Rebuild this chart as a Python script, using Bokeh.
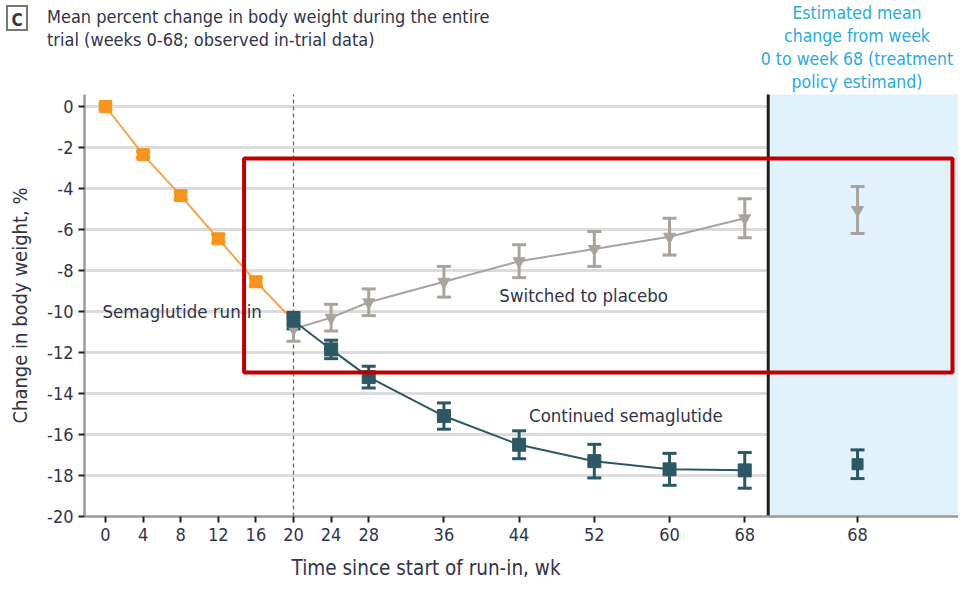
import math
from bokeh.plotting import figure
from bokeh.layouts import column
from bokeh.models import FixedTicker, Label, BoxAnnotation, Range1d, Div
from bokeh.embed import file_html
from bokeh.resources import INLINE

FONT = "'DejaVu Sans Condensed', 'Liberation Sans Narrow', sans-serif"

# ---------------- data ----------------
runin_weeks = [0, 4, 8, 12, 16]
runin_mean = [0.0, -2.35, -4.35, -6.45, -8.55]
runin_err = [0.12, 0.15, 0.2, 0.2, 0.22]

cont_weeks = [20, 24, 28, 36, 44, 52, 60, 68]
cont_mean = [-10.45, -11.85, -13.2, -15.1, -16.5, -17.3, -17.7, -17.75]
cont_err = [0.4, 0.45, 0.53, 0.64, 0.68, 0.82, 0.78, 0.87]

plac_weeks = [20, 24, 28, 36, 44, 52, 60, 68]
plac_mean = [-10.85, -10.3, -9.55, -8.55, -7.55, -6.95, -6.35, -5.45]
plac_err = [0.6, 0.65, 0.65, 0.75, 0.8, 0.85, 0.9, 0.95]

est_pos = 80
est_label = "68"
est_plac_mean = -5.05
est_plac_err = 1.15
est_cont_mean = -17.45
est_cont_err = 0.7

x_ticks = [0, 4, 8, 12, 16, 20, 24, 28, 36, 44, 52, 60, 68]
y_ticks = list(range(-20, 1, 2))

title_lines = ["Mean percent change in body weight during the entire",
               "trial (weeks 0-68; observed in-trial data)"]
header_lines = ["Estimated mean", "change from week", "0 to week 68 (treatment",
                "policy estimand)"]

switch_week = 20
panel_left = 70.5
highlight = dict(left=14.74, right=90.1, top=-2.54, bottom=-12.97)

ORANGE = "#F7941D"
ORANGE_LINE = "#F6A54C"
TEAL = "#2E5764"
GRAY = "#A8A39D"
TXT = "#33334A"
CYAN = "#29AAE1"

W = 958
TOP_H, MAIN_H, BOT_H = 94, 454, 36
X0, X1 = -2.234, 90.74
Y0, Y1 = -20, 0.585


def px(x):  # reference pixel -> week units
    return (x - 113) / 9.5


def py(y):  # reference pixel -> percent units
    return -(y - 113) / 20.9


def lab(fig, x, y, text, size="18.5px", color=TXT, align="left", **kw):
    fig.add_layout(Label(x=x, y=y, text=text, text_font=FONT, text_font_size=size,
                         text_color=color, text_align=align, text_baseline="middle",
                         **kw))


# ---------------- title area (HTML text) ----------------
hx = 84 + (est_pos - X0) * (W - 84) / (X1 - X0)
parts = [
    f'<div style="position:relative;width:{W}px;height:{TOP_H}px;'
    f'font-family:{FONT};color:{TXT};">',
    '<div style="position:absolute;left:6px;top:5px;width:22px;height:26px;'
    'border:2px solid #777;font-weight:bold;font-size:17px;line-height:26px;'
    'text-align:center;background:white;">C</div>',
]
for i, t in enumerate(title_lines):
    parts.append(f'<div style="position:absolute;left:47px;top:{6 + 23 * i}px;'
                 f'font-size:18px;line-height:22px;white-space:nowrap;">{t}</div>')
for i, t in enumerate(header_lines):
    parts.append(f'<div style="position:absolute;left:{hx - 100:.0f}px;top:{2 + 23 * i}px;'
                 f'width:200px;text-align:center;font-size:17.5px;line-height:22px;'
                 f'white-space:nowrap;color:{CYAN};">{t}</div>')
parts.append('</div>')
top = Div(text="".join(parts), width=W, height=TOP_H, margin=(0, 0, 0, 0))

# ---------------- main plot ----------------
p = figure(width=W, height=MAIN_H, output_backend="svg", toolbar_location=None,
           x_range=Range1d(X0, X1), y_range=Range1d(Y0, Y1),
           min_border_left=84, min_border_right=0, min_border_top=0,
           min_border_bottom=32)
p.outline_line_color = None

p.xgrid.visible = False
p.ygrid.ticker = FixedTicker(ticks=y_ticks)
p.ygrid.grid_line_color = "#DCDCDC"
p.ygrid.grid_line_width = 3

p.xaxis.ticker = FixedTicker(ticks=x_ticks + [est_pos])
p.xaxis.major_label_overrides = {est_pos: est_label}
p.yaxis.ticker = FixedTicker(ticks=y_ticks)
p.yaxis.major_label_overrides = {t: str(t) for t in y_ticks}
for ax in (p.xaxis[0], p.yaxis[0]):
    ax.axis_line_color = "#9A9A9A"
    ax.axis_line_width = 2.5
    ax.major_tick_line_color = "#222222"
    ax.major_tick_line_width = 2
    ax.major_tick_out = 6
    ax.major_tick_in = 0
    ax.minor_tick_line_color = None
    ax.major_label_text_font = FONT
    ax.major_label_text_font_size = "18px"
    ax.major_label_text_color = TXT
    ax.major_label_standoff = 5
p.yaxis.axis_label = "Change in body weight, %"
p.yaxis.axis_label_text_font = FONT
p.yaxis.axis_label_text_font_size = "20px"
p.yaxis.axis_label_text_font_style = "normal"
p.yaxis.axis_label_text_color = TXT
p.yaxis.axis_label_standoff = 12

# estimate panel background, switch line, divider
p.quad(left=[panel_left], right=[X1 + 5], top=[Y1 + 5], bottom=[Y0],
       fill_color="#E1F2FC", line_color=None)
p.segment(x0=[switch_week], y0=[Y0], x1=[switch_week], y1=[Y1 + 5],
          line_color="#666666", line_width=1.3, line_dash="4 3")
p.segment(x0=[panel_left], y0=[Y0], x1=[panel_left], y1=[Y1 + 5],
          line_color="#1E1E1E", line_width=3)

# lines
p.line(runin_weeks + [cont_weeks[0]], runin_mean + [cont_mean[0]],
       line_color=ORANGE_LINE, line_width=2)
p.line(plac_weeks, plac_mean, line_color=GRAY, line_width=2)
p.line(cont_weeks, cont_mean, line_color=TEAL, line_width=2)


def errbars(xs, means, errs, color, cap=14):
    lo = [m - e for m, e in zip(means, errs)]
    hi = [m + e for m, e in zip(means, errs)]
    p.segment(x0=xs, y0=lo, x1=xs, y1=hi, line_color=color, line_width=3)
    p.dash(x=xs + xs, y=lo + hi, size=cap, line_color=color, line_width=3)


errbars(runin_weeks, runin_mean, runin_err, ORANGE)
errbars(plac_weeks, plac_mean, plac_err, GRAY)
errbars(cont_weeks, cont_mean, cont_err, TEAL)
errbars([est_pos], [est_plac_mean], [est_plac_err], GRAY)
errbars([est_pos], [est_cont_mean], [est_cont_err], TEAL)

p.scatter(runin_weeks, runin_mean, marker="square", size=12,
          fill_color=ORANGE, line_color=ORANGE)
p.scatter(plac_weeks, plac_mean, marker="inverted_triangle", size=12,
          fill_color=GRAY, line_color=GRAY)
p.scatter(cont_weeks, cont_mean, marker="square", size=13,
          fill_color=TEAL, line_color=TEAL)
p.scatter([est_pos], [est_plac_mean], marker="inverted_triangle", size=12,
          fill_color=GRAY, line_color=GRAY)
p.scatter([est_pos], [est_cont_mean], marker="square", size=11,
          fill_color=TEAL, line_color=TEAL)

p.add_layout(BoxAnnotation(fill_alpha=0, line_color="#C00000", line_alpha=1,
                           line_width=4, **highlight))

lab(p, px(110), py(322), "Semaglutide run-in")
lab(p, px(511), py(306), "Switched to placebo")
lab(p, px(541), py(428), "Continued semaglutide")

# ---------------- x-axis title strip ----------------
bot = figure(width=W, height=BOT_H, output_backend="svg", toolbar_location=None,
             x_range=p.x_range, y_range=Range1d(BOT_H, 0),
             x_axis_location=None, y_axis_location=None,
             min_border_left=84, min_border_right=0, min_border_top=0,
             min_border_bottom=0)
bot.outline_line_color = None
bot.xgrid.visible = False
bot.ygrid.visible = False
lab(bot, 34.1, 19, "Time since start of run-in, wk", size="20.5px", align="center")

layout = column(top, p, bot, spacing=0)
open("out.html", "w").write(file_html(layout, INLINE))
